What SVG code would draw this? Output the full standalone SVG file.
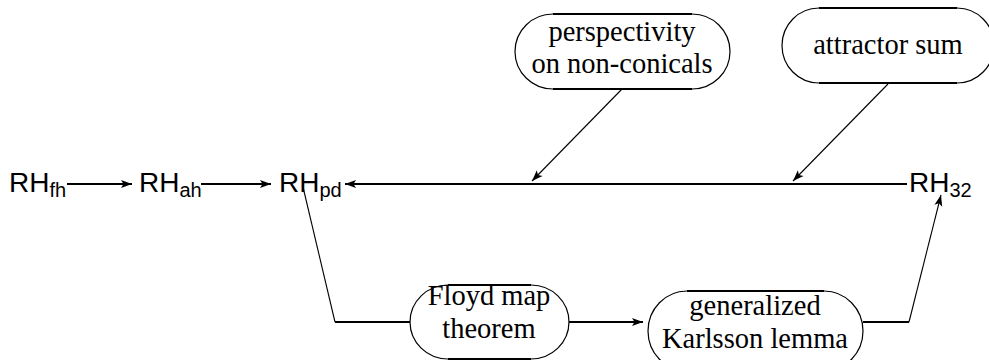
<svg xmlns="http://www.w3.org/2000/svg" width="989" height="360" viewBox="0 0 989 360">
<style>
.rh{font-family:"Liberation Sans",Arial,sans-serif;font-size:28px;fill:#000}
.sub{font-size:20px}
.lbl{font-family:"Liberation Serif","Times New Roman",serif;font-size:28.5px;fill:#000;text-anchor:middle}
.outline{fill:#fff;stroke:#000;stroke-width:1.2}
.flat{fill:none;stroke:#000;stroke-width:2.2}
.h{fill:none;stroke:#000;stroke-width:1.8}
.d{fill:none;stroke:#000;stroke-width:1.1}
</style>
<defs>
<marker id="ah" markerUnits="userSpaceOnUse" markerWidth="12" markerHeight="9" refX="11" refY="4" orient="auto" overflow="visible">
<path d="M0,0 L11,4 L0,8 L2.5,4 z" fill="#000"/>
</marker>
</defs>
<rect width="989" height="360" fill="#fff"/>

<g id="connectors">
<path class="h" d="M67,184 H132" marker-end="url(#ah)"/>
<path class="h" d="M201,184 H271" marker-end="url(#ah)"/>
<path class="h" d="M907,184 H345" marker-end="url(#ah)"/>
<path class="d" d="M622,89 L532,181" marker-end="url(#ah)"/>
<path class="d" d="M888,84 L793,181" marker-end="url(#ah)"/>
<g id="pd-to-floyd">
<path class="d" d="M303,187 L335,322"/>
<path class="h" d="M335,322 H410"/>
</g>
<path class="h" d="M569,322 H643" marker-end="url(#ah)"/>
<g id="karlsson-to-rh32">
<path class="h" d="M863,322 H909"/>
<path class="d" d="M909,322 L941,195" marker-end="url(#ah)"/>
</g>
</g>

<g id="RHfh"><text class="rh" x="9" y="192">RH<tspan class="sub" dy="5">fh</tspan></text></g>
<g id="RHah"><text class="rh" x="139" y="192">RH<tspan class="sub" dy="5">ah</tspan></text></g>
<g id="RHpd"><text class="rh" x="279" y="192">RH<tspan class="sub" dy="5">pd</tspan></text></g>
<g id="RH32"><text class="rh" x="909" y="192">RH<tspan class="sub" dy="5">32</tspan></text></g>

<g id="perspectivity">
<path class="outline" d="M553,14 H692 A38,37.5 0 0 1 692,89 H553 A38,37.5 0 0 1 553,14 Z"/>
<path class="flat" d="M553,14 H692 M553,89 H692"/>
<text class="lbl" x="622" y="41">perspectivity</text>
<text class="lbl" x="622" y="73">on non-conicals</text>
</g>

<g id="attractor">
<path class="outline" d="M819,8 H957 A37,37.5 0 0 1 957,83 H819 A37,37.5 0 0 1 819,8 Z"/>
<path class="flat" d="M819,8 H957 M819,83 H957"/>
<text class="lbl" x="888" y="54">attractor sum</text>
</g>

<g id="floyd">
<path class="outline" d="M448,285 H531 A38,37 0 0 1 531,359 H448 A38,37 0 0 1 448,285 Z"/>
<path class="flat" d="M448,285 H531 M448,359 H531"/>
<text class="lbl" x="489" y="305">Floyd map</text>
<text class="lbl" x="489" y="338">theorem</text>
</g>

<g id="karlsson">
<path class="outline" d="M687,291 H824 A39,40 0 0 1 824,371 H687 A39,40 0 0 1 687,291 Z"/>
<path class="flat" d="M687,291 H824"/>
<text class="lbl" x="755" y="315">generalized</text>
<text class="lbl" x="755" y="348">Karlsson lemma</text>
</g>
</svg>
